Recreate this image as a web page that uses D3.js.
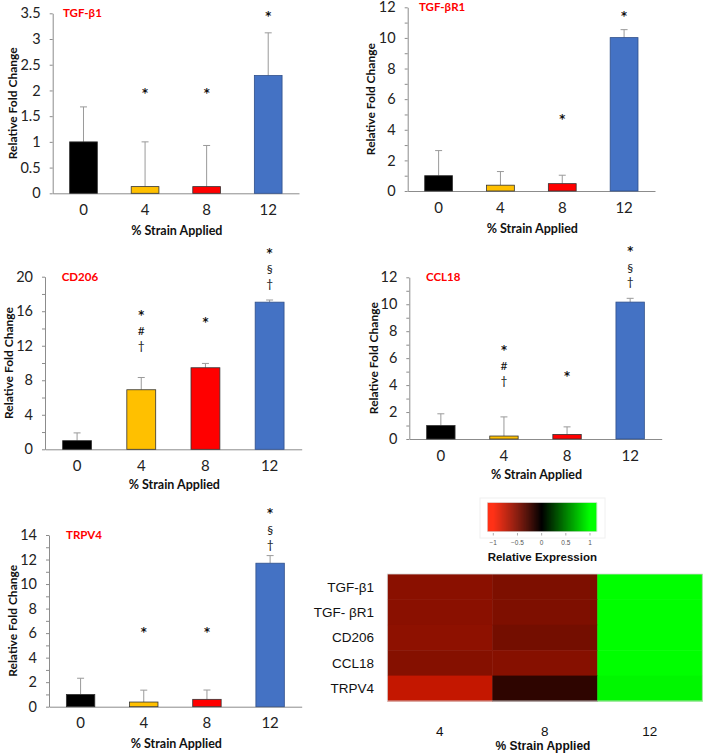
<!DOCTYPE html>
<html><head><meta charset="utf-8">
<script src="https://cdn.jsdelivr.net/npm/d3@7"></script>
<style>body{margin:0;background:#fff}svg{display:block}</style>
</head><body><svg id="c" width="708" height="755"></svg>
<script>
// ---------- DATA ----------
const strains = ["0", "4", "8", "12"];
const barColors = ["#000000", "#FFC000", "#FF0000", "#4472C4"];
const genes = ["TGF-β1", "TGF-βR1", "CD206", "CCL18", "TRPV4"];

const tgfb1Mean = [1.0, 0.13, 0.13, 2.29];
const tgfb1Err  = [0.68, 0.87, 0.80, 0.83];
const tgfbr1Mean = [1.0, 0.38, 0.48, 10.02];
const tgfbr1Err  = [1.64, 0.89, 0.55, 0.52];
const cd206Mean = [1.0, 6.9, 9.45, 17.05];
const cd206Err  = [0.9, 1.42, 0.5, 0.25];
const ccl18Mean = [1.0, 0.22, 0.34, 10.16];
const ccl18Err  = [0.87, 1.42, 0.56, 0.28];
const trpv4Mean = [1.0, 0.38, 0.6, 11.7];
const trpv4Err  = [1.32, 0.97, 0.76, 0.62];

// significance marks: [bar index, symbol, level]
const tgfb1Marks = [[1, "*", 2.0], [2, "*", 2.0], [3, "*", 3.5]];
const tgfbr1Marks = [[2, "*", 4.9], [3, "*", 11.6]];
const cd206Marks = [[1, "*", 15.9], [1, "#", 13.7], [1, "†", 12.0], [2, "*", 15.1],
                    [3, "*", 23.1], [3, "§", 20.9], [3, "†", 19.2]];
const ccl18Marks = [[1, "*", 6.85], [1, "#", 5.42], [1, "†", 4.3], [2, "*", 4.88],
                    [3, "*", 14.2], [3, "§", 12.75], [3, "†", 11.67]];
const trpv4Marks = [[1, "*", 6.3], [2, "*", 6.3], [3, "*", 16.0], [3, "§", 14.4], [3, "†", 13.25]];

// y axis: max, label step, minor step
const tgfb1Axis = [3.5, 0.5, 0.5];
const tgfbr1Axis = [12, 2, 1];
const cd206Axis = [20, 4, 2];
const ccl18Axis = [12, 2, 1];
const trpv4Axis = [14, 2, 1];

// heatmap (relative expression), columns 4, 8, 12 % strain
const heatStrains = ["4", "8", "12"];
const heatLabels = ["TGF-β1", "TGF- βR1", "CD206", "CCL18", "TRPV4"];
const heatValues = [
  [-0.54, -0.49, 1.0],
  [-0.54, -0.495, 1.0],
  [-0.557, -0.455, 1.0],
  [-0.52, -0.525, 1.0],
  [-0.77, -0.18, 0.97]
];
const legendTicks = [-1, -0.5, 0, 0.5, 1];

// ---------- DRAW ----------
const svg = d3.select("#c");
const FONT = "Lato, 'Open Sans', sans-serif";

function panel(cfg) {
  const {mean, err, marks, axis, x0, x1, yTop, y0, title, titleX, ylabX} = cfg;
  const g = svg.append("g");
  const x = d3.scaleBand().domain(strains).range([x0, x1]).paddingInner(0.55).paddingOuter(0.275);
  const y = d3.scaleLinear().domain([0, axis[0]]).range([y0, yTop]);
  const minor = d3.range(0, axis[0] + 1e-9, axis[2]);
  const yAx = d3.axisLeft(y).tickValues(minor).tickSize(3).tickPadding(9).tickSizeOuter(0)
    .tickFormat(v => (Math.abs(v / axis[1] - Math.round(v / axis[1])) < 1e-6) ? d3.format("~g")(v) : "");
  const ya = g.append("g").attr("transform", `translate(${x0},0)`).call(yAx);
  ya.selectAll("path,line").attr("stroke", "#8c8c8c");
  ya.selectAll("text").attr("font-family", FONT).attr("font-size", 14.5).attr("fill", "#222");
  const xAx = d3.axisBottom(x).tickSize(0).tickPadding(11).tickSizeOuter(0);
  const xa = g.append("g").attr("transform", `translate(0,${y0})`).call(xAx);
  xa.select("path").attr("stroke", "#8c8c8c");
  xa.selectAll("text").attr("font-family", FONT).attr("font-size", 15).attr("fill", "#222");
  // error bars
  strains.forEach((s, i) => {
    const cx = x(s) + x.bandwidth() / 2;
    g.append("line").attr("x1", cx).attr("x2", cx).attr("y1", y(mean[i])).attr("y2", y(mean[i] + err[i]))
      .attr("stroke", "#9a9a9a").attr("stroke-width", 1);
    g.append("line").attr("x1", cx - 3.5).attr("x2", cx + 3.5).attr("y1", y(mean[i] + err[i])).attr("y2", y(mean[i] + err[i]))
      .attr("stroke", "#9a9a9a").attr("stroke-width", 1);
  });
  g.selectAll("rect.bar").data(mean).join("rect")
    .attr("x", (d, i) => x(strains[i])).attr("width", x.bandwidth())
    .attr("y", d => y(d)).attr("height", d => y0 - y(d))
    .attr("fill", (d, i) => barColors[i]).attr("stroke", (d, i) => i === 3 ? "#2f4f8a" : "#333").attr("stroke-width", 0.8);
  // marks
  marks.forEach(([i, sym, lv]) => {
    const cx = x(strains[i]) + x.bandwidth() / 2;
    const star = sym === "*";
    g.append("text").attr("x", cx).attr("y", y(lv)).attr("dy", star ? "0.6em" : "0.36em")
      .attr("text-anchor", "middle").attr("font-family", star ? "'DejaVu Sans', sans-serif" : FONT)
      .attr("font-size", star ? 11.5 : 12)
      .attr("font-weight", star ? "bold" : "normal")
      .attr("fill", "#111").text(sym);
  });
  // title
  g.append("text").attr("x", titleX).attr("y", yTop).attr("dy", "0.36em").attr("font-family", FONT)
    .attr("font-weight", "bold").attr("font-size", 11.5).attr("fill", "#FF0000").text(title);
  // y label
  g.append("text").attr("transform", `translate(${ylabX},${(y0 + yTop) / 2}) rotate(-90)`)
    .attr("text-anchor", "middle").attr("dy", "0.36em").attr("font-family", FONT).attr("font-weight", "bold")
    .attr("font-size", 12).attr("fill", "#111").text("Relative Fold Change");
  // x label
  g.append("text").attr("x", (x0 + x1) / 2 + 1).attr("y", y0 + cfg.xlabDy).attr("dy", "0.36em")
    .attr("text-anchor", "middle").attr("font-family", FONT).attr("font-weight", "bold")
    .attr("font-size", 12.5).attr("fill", "#111").text("% Strain Applied");
}

panel({mean: tgfb1Mean, err: tgfb1Err, marks: tgfb1Marks, axis: tgfb1Axis, x0: 52.7, x1: 299, yTop: 13.3, y0: 193.3,
  title: genes[0], titleX: 63, ylabX: 13, xlabDy: 37});
panel({mean: tgfbr1Mean, err: tgfbr1Err, marks: tgfbr1Marks, axis: tgfbr1Axis, x0: 407.7, x1: 655, yTop: 7.3, y0: 191,
  title: genes[1], titleX: 419, ylabX: 370.5, xlabDy: 37});
panel({mean: cd206Mean, err: cd206Err, marks: cd206Marks, axis: cd206Axis, x0: 45, x1: 301.7, yTop: 276.7, y0: 449.3,
  title: genes[2], titleX: 61.7, ylabX: 8.5, xlabDy: 35});
panel({mean: ccl18Mean, err: ccl18Err, marks: ccl18Marks, axis: ccl18Axis, x0: 409.3, x1: 661.7, yTop: 277.3, y0: 439,
  title: genes[3], titleX: 426, ylabX: 373.5, xlabDy: 35});
panel({mean: trpv4Mean, err: trpv4Err, marks: trpv4Marks, axis: trpv4Axis, x0: 49, x1: 301.7, yTop: 535, y0: 706.7,
  title: genes[4], titleX: 66, ylabX: 12.5, xlabDy: 37});

// ---------- HEATMAP ----------
const color = d3.scaleLinear().domain([-1, 0, 1]).range(["#ff1e00", "#000000", "#00ff00"]).clamp(true);
const hx = d3.scaleBand().domain(heatStrains).range([387.3, 702.3]);
const hy = d3.scaleBand().domain(heatLabels).range([574, 701]);
const hg = svg.append("g");
heatLabels.forEach((lab, r) => {
  heatStrains.forEach((s, c) => {
    hg.append("rect").attr("x", hx(s)).attr("y", hy(lab)).attr("width", hx.bandwidth() + 0.5).attr("height", hy.bandwidth() + 0.5)
      .attr("fill", color(heatValues[r][c]));
  });
  hg.append("text").attr("x", 374).attr("y", hy(lab) + hy.bandwidth() / 2).attr("dy", "0.36em")
    .attr("text-anchor", "end").attr("font-family", "'Liberation Sans', Arial, sans-serif").attr("font-size", 13.5)
    .attr("fill", "#111").text(lab);
});
hg.append("rect").attr("x", 387.3).attr("y", 574).attr("width", 315).attr("height", 127)
  .attr("fill", "none").attr("stroke", "#d8d8d8").attr("stroke-width", 0.8);
heatStrains.forEach(s => {
  hg.append("text").attr("x", hx(s) + hx.bandwidth() / 2).attr("y", 730.7).attr("dy", "0.36em")
    .attr("text-anchor", "middle").attr("font-family", "'Liberation Sans', Arial, sans-serif").attr("font-size", 13.5)
    .attr("fill", "#111").text(s);
});
hg.append("text").attr("x", 543).attr("y", 745.7).attr("dy", "0.36em").attr("text-anchor", "middle")
  .attr("font-family", "'Liberation Sans', Arial, sans-serif").attr("font-weight", "bold").attr("font-size", 12)
  .attr("fill", "#111").text("% Strain Applied");

// legend colorbar
const lx = d3.scaleLinear().domain([-1, 1]).range([493.3, 590]);
const lg = svg.append("g");
lg.append("rect").attr("x", 480).attr("y", 498).attr("width", 125).attr("height", 40).attr("fill", "#fff").attr("stroke", "#f0f0f0");
const vMin = lx.invert(487.3), vMax = lx.invert(596.7);
const steps = d3.range(0, 110);
steps.forEach(k => {
  const v0 = vMin + (vMax - vMin) * k / steps.length;
  const v1 = vMin + (vMax - vMin) * (k + 1) / steps.length;
  lg.append("rect").attr("x", lx(v0)).attr("y", 502.7).attr("width", lx(v1) - lx(v0) + 0.4).attr("height", 29)
    .attr("fill", color((v0 + v1) / 2));
});
lg.append("rect").attr("x", 487.3).attr("y", 502.7).attr("width", 109.4).attr("height", 29)
  .attr("fill", "none").attr("stroke", "#ddd").attr("stroke-width", 0.6);
legendTicks.forEach(t => {
  lg.append("line").attr("x1", lx(t)).attr("x2", lx(t)).attr("y1", 533).attr("y2", 535.5).attr("stroke", "#777").attr("stroke-width", 0.6);
  lg.append("text").attr("x", lx(t)).attr("y", 542.7).attr("dy", "0.36em").attr("text-anchor", "middle")
    .attr("font-family", "'Liberation Sans', Arial, sans-serif").attr("font-size", 6.5).attr("fill", "#555").text(d3.format("~g")(t));
});
lg.append("text").attr("x", 542.3).attr("y", 556.7).attr("dy", "0.36em").attr("text-anchor", "middle")
  .attr("font-family", "'Liberation Sans', Arial, sans-serif").attr("font-weight", "bold").attr("font-size", 11.5)
  .attr("fill", "#111").text("Relative Expression");
</script></body></html>
